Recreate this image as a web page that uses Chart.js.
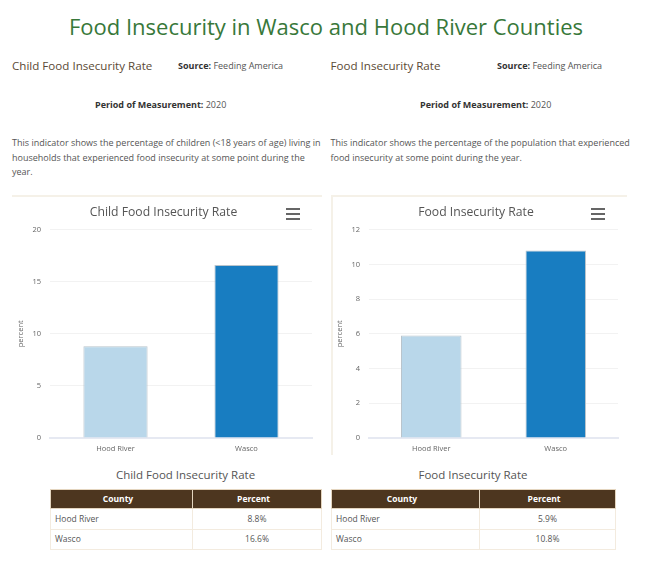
<!DOCTYPE html>
<html>
<head>
<meta charset="utf-8">
<script src="https://cdn.jsdelivr.net/npm/chart.js@4"></script>
<style>
  html, body { margin: 0; padding: 0; background: #fff; }
  body { width: 656px; height: 562px; position: relative; overflow: hidden; font-family: "Open Sans", sans-serif; color: #555; }
  .abs { position: absolute; white-space: nowrap; }
  h1 { margin: 0; left: 0; width: 652px; top: 10px; text-align: center; font-size: 22px; line-height: 32px; font-weight: 400; color: #38783a; }
  .sub { font-size: 11.6px; line-height: 16px; color: #5b4a35; }
  .meta { font-size: 9px; line-height: 14px; color: #555; }
  .meta b { color: #333; }
  .desc { font-size: 9px; line-height: 14.5px; color: #555; white-space: normal; }
  .rule { background: #f5f1e8; }
  .burger { width: 14px; height: 12px; border-top: 2px solid #666; border-bottom: 2px solid #666; box-sizing: border-box; }
  .burger::after { content: ""; display: block; height: 2px; margin-top: 3px; background: #666; }
  canvas { position: absolute; }
  .cap { font-size: 11.5px; line-height: 16px; text-align: center; color: #555; }
  table { position: absolute; border-collapse: collapse; table-layout: fixed; font-size: 8.5px; color: #555; }
  th { background: #4d361f; color: #fff; height: 19px; padding: 0 7px 2px 0; box-sizing: border-box; border: 1px solid #e4d5bf; font-weight: 700; }
  td { height: 20.5px; padding: 0 0 1px; box-sizing: border-box; border: 1px solid #f3ebdf; text-align: center; }
  td:first-child { text-align: left; padding-left: 4px; }
</style>
</head>
<body>
<h1 class="abs">Food Insecurity in Wasco and Hood River Counties</h1>

<div class="abs sub" style="left:12px;top:58px">Child Food Insecurity Rate</div>
<div class="abs meta" style="left:178px;top:59px"><b>Source:</b> Feeding America</div>
<div class="abs meta" style="left:95px;top:98px"><b>Period of Measurement:</b> 2020</div>
<div class="abs desc" style="left:12px;top:136px;width:312px">This indicator shows the percentage of children (&lt;18 years of age) living in households that experienced food insecurity at some point during the year.</div>

<div class="abs sub" style="left:330.5px;top:58px">Food Insecurity Rate</div>
<div class="abs meta" style="left:497px;top:59px"><b>Source:</b> Feeding America</div>
<div class="abs meta" style="left:420px;top:98px"><b>Period of Measurement:</b> 2020</div>
<div class="abs desc" style="left:330.5px;top:136px;width:312px">This indicator shows the percentage of the population that experienced food insecurity at some point during the year.</div>

<div class="abs rule" style="left:12px;top:195px;width:310px;height:2px"></div>
<div class="abs rule" style="left:331px;top:195px;width:296px;height:2px"></div>
<div class="abs rule" style="left:331px;top:195px;width:2px;height:260px"></div>

<canvas id="childChart" style="left:12px;top:197px;width:306px;height:259px"></canvas>
<canvas id="foodChart" style="left:331px;top:197px;width:293px;height:259px"></canvas>
<div class="abs burger" style="left:285.5px;top:208px"></div>
<div class="abs burger" style="left:591px;top:208px"></div>

<div class="abs cap" style="left:50px;top:467px;width:271px">Child Food Insecurity Rate</div>
<div class="abs cap" style="left:331px;top:467px;width:284px">Food Insecurity Rate</div>
<table id="childTable" style="left:50px;top:489px;width:271px"><colgroup><col style="width:142px"><col style="width:129px"></colgroup></table>
<table id="foodTable" style="left:331px;top:489px;width:284px"><colgroup><col style="width:148px"><col style="width:136px"></colgroup></table>

<script>
// ---- Data ----
const counties = ['Hood River', 'Wasco'];
const childRates = [8.8, 16.6];
const foodRates = [5.9, 10.8];
const childTicks = [0, 5, 10, 15, 20];
const foodTicks = [0, 2, 4, 6, 8, 10, 12];
const childTitle = 'Child Food Insecurity Rate';
const foodTitle = 'Food Insecurity Rate';
const tableHeaders = ['County', 'Percent'];

const barColors = ['#b9d7ea', '#187dc1'];
const fontFamily = '"Open Sans", sans-serif';

function makeChart(id, title, values, ticks, barWidth) {
  new Chart(document.getElementById(id), {
    type: 'bar',
    data: {
      labels: counties,
      datasets: [{
        data: values,
        backgroundColor: barColors,
        borderColor: '#b9c4cc',
        borderWidth: 1,
        barPercentage: barWidth,
        categoryPercentage: 1,
      }]
    },
    options: {
      responsive: false,
      animation: false,
      layout: { padding: { top: 1, right: 6, left: 3, bottom: 0 } },
      plugins: {
        legend: { display: false },
        tooltip: { enabled: false },
        title: {
          display: true,
          text: title,
          color: '#555',
          font: { family: fontFamily, size: 12.2, weight: 'normal' },
          padding: { top: 7, bottom: 10 },
        },
      },
      scales: {
        x: {
          grid: { display: false, drawTicks: false },
          border: { color: '#e6e9f2', width: 2 },
          ticks: { color: '#666', padding: 6, maxRotation: 0, font: { family: fontFamily, size: 7.5 } },
          afterFit: (scale) => { scale.height = 18; },
        },
        y: {
          min: ticks[0],
          max: ticks[ticks.length - 1],
          afterBuildTicks: (scale) => { scale.ticks = ticks.map((v) => ({ value: v })); },
          grid: { color: '#f2f2f2', drawTicks: false },
          border: { display: false },
          ticks: { color: '#666', padding: 9, font: { family: fontFamily, size: 7.5 } },
          title: {
            display: true,
            text: 'percent',
            color: '#666',
            font: { family: fontFamily, size: 7.5 },
            padding: { top: 1, bottom: 0 },
          },
          afterFit: (scale) => { scale.width = 35; },
        },
      },
    },
  });
}

function fillTable(id, values) {
  const table = document.getElementById(id);
  const head = '<tr>' + tableHeaders.map((h) => `<th>${h}</th>`).join('') + '</tr>';
  const rows = counties.map((c, i) => `<tr><td>${c}</td><td>${values[i].toFixed(1)}%</td></tr>`).join('');
  table.insertAdjacentHTML('beforeend', head + rows);
}

makeChart('childChart', childTitle, childRates, childTicks, 0.49);
makeChart('foodChart', foodTitle, foodRates, foodTicks, 0.486);
fillTable('childTable', childRates);
fillTable('foodTable', foodRates);
</script>
</body>
</html>
